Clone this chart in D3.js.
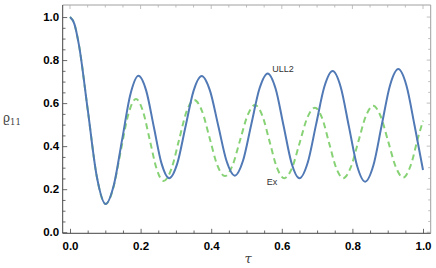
<!DOCTYPE html>
<html><head><meta charset="utf-8">
<script src="https://cdn.jsdelivr.net/npm/d3@7"></script>
<style>body{margin:0;background:#fff;}svg{display:block;}</style>
</head><body>
<svg id="c" width="436" height="268"></svg>
<script>
// Data: [tau, rho11]
const ullTau = [0,0.0125,0.025,0.0505,0.076,0.101,0.124,0.1475,0.171,0.194,0.216,0.2375,0.259,0.281,0.304,0.327,0.350,0.373,0.3965,0.420,0.4435,0.467,0.490,0.5135,0.537,0.560,0.5825,0.605,0.6275,0.650,0.6735,0.697,0.7205,0.744,0.767,0.790,0.813,0.836,0.8595,0.883,0.9065,0.930,0.953,0.976,1.0];
const ullVal = [1.0,0.967,0.873,0.566,0.258,0.131,0.218,0.429,0.640,0.727,0.657,0.489,0.321,0.251,0.320,0.489,0.657,0.726,0.658,0.495,0.331,0.263,0.332,0.501,0.669,0.738,0.667,0.495,0.322,0.251,0.324,0.500,0.676,0.749,0.674,0.492,0.310,0.235,0.311,0.497,0.682,0.758,0.682,0.497,0.289];
const exTau = [0,0.0125,0.025,0.0505,0.076,0.101,0.1225,0.144,0.1655,0.187,0.2065,0.226,0.2455,0.265,0.287,0.3085,0.330,0.352,0.374,0.3955,0.417,0.439,0.460,0.4815,0.503,0.524,0.545,0.5655,0.586,0.607,0.629,0.6505,0.672,0.694,0.714,0.734,0.754,0.774,0.795,0.8165,0.838,0.859,0.880,0.9015,0.923,0.944,0.965,0.986,1.0];
const exVal = [1.0,0.967,0.873,0.566,0.258,0.131,0.205,0.380,0.550,0.619,0.563,0.4285,0.294,0.238,0.293,0.4265,0.560,0.615,0.563,0.438,0.313,0.261,0.309,0.426,0.543,0.591,0.541,0.421,0.301,0.251,0.299,0.415,0.531,0.579,0.531,0.415,0.299,0.251,0.300,0.4195,0.539,0.588,0.539,0.421,0.303,0.254,0.310,0.440,0.518];
const xTicks = [0,0.2,0.4,0.6,0.8,1.0];
const yTicks = [0,0.2,0.4,0.6,0.8,1.0];
const xTickLabels = ["0.0","0.2","0.4","0.6","0.8","1.0"];
const yTickLabels = ["0.0","0.2","0.4","0.6","0.8","1.0"];

const svg = d3.select("#c");
const L = 62.7, R = 430.7, T = 5, B = 233.3;
const x = d3.scaleLinear().domain([-0.0207, 1.0218]).range([L, R]);
const y = d3.scaleLinear().domain([-0.005, 1.056]).range([B, T]);

const minorX = d3.range(0, 1.0001, 0.05);
const minorY = d3.range(0, 1.0001, 0.05);

// Frame top/right (light grey) with mirrored ticks
svg.append("line").attr("x1", L).attr("x2", R).attr("y1", T).attr("y2", T).attr("stroke", "#a0a0a0").attr("stroke-width", 1);
svg.append("line").attr("x1", R).attr("x2", R).attr("y1", T).attr("y2", B).attr("stroke", "#a0a0a0").attr("stroke-width", 1);
minorX.forEach((v,i) => {
  const major = i % 4 === 0;
  svg.append("line").attr("x1", x(v)).attr("x2", x(v)).attr("y1", T).attr("y2", T + (major ? 4 : 2.5)).attr("stroke", "#b0b0b0").attr("stroke-width", 0.8);
});
minorY.forEach((v,i) => {
  const major = i % 4 === 0;
  svg.append("line").attr("y1", y(v)).attr("y2", y(v)).attr("x1", R).attr("x2", R - (major ? 4 : 2.5)).attr("stroke", "#b0b0b0").attr("stroke-width", 0.8);
});

// Bottom axis
const gx = svg.append("g").attr("transform", `translate(0,${B})`)
  .call(d3.axisBottom(x).tickValues(xTicks).tickSize(0).tickPadding(9).tickFormat((d,i) => xTickLabels[i]));
gx.select(".domain").remove();
gx.selectAll("text").attr("font-family", "Liberation Sans, Arial, sans-serif").attr("font-weight", "bold").attr("font-size", 11.5).attr("fill", "#000");
const gxm = svg.append("g").attr("transform", `translate(0,${B})`)
  .call(d3.axisBottom(x).tickValues(minorX).tickSize(0).tickFormat(""));
gxm.select(".domain").remove();
gxm.selectAll(".tick").each(function(d,i){
  d3.select(this).select("line").attr("y2", -(i % 4 === 0 ? 4.5 : 2.8)).attr("stroke", "#444").attr("stroke-width", 0.8);
});

// Left axis
const gy = svg.append("g").attr("transform", `translate(${L},0)`)
  .call(d3.axisLeft(y).tickValues(yTicks).tickSize(0).tickPadding(3.5).tickFormat((d,i) => yTickLabels[i]));
gy.select(".domain").remove();
gy.selectAll("text").attr("font-family", "Liberation Sans, Arial, sans-serif").attr("font-weight", "bold").attr("font-size", 11.5).attr("fill", "#000");
const gym = svg.append("g").attr("transform", `translate(${L},0)`)
  .call(d3.axisLeft(y).tickValues(minorY).tickSize(0).tickFormat(""));
gym.select(".domain").remove();
gym.selectAll(".tick").each(function(d,i){
  d3.select(this).select("line").attr("x2", (i % 4 === 0 ? 4.5 : 2.8)).attr("stroke", "#444").attr("stroke-width", 0.8);
});

svg.append("line").attr("x1", L).attr("x2", R).attr("y1", B).attr("y2", B).attr("stroke", "#444").attr("stroke-width", 1);
svg.append("line").attr("x1", L).attr("x2", L).attr("y1", T).attr("y2", B).attr("stroke", "#444").attr("stroke-width", 1);

// Curves
const line = d3.line().x(d => x(d[0])).y(d => y(d[1])).curve(d3.curveMonotoneX);
const exData = exTau.map((t,i) => [t, exVal[i]]);
const ullData = ullTau.map((t,i) => [t, ullVal[i]]);
svg.append("clipPath").attr("id","pc").append("rect").attr("x", L).attr("y", T).attr("width", R-L).attr("height", B-T);
svg.append("path").datum(exData).attr("d", line).attr("fill","none")
  .attr("stroke","#88d276").attr("stroke-width",2).attr("stroke-dasharray","6,4").attr("clip-path","url(#pc)");
svg.append("path").datum(ullData).attr("d", line).attr("fill","none")
  .attr("stroke","#5079b5").attr("stroke-width",2).attr("clip-path","url(#pc)");

// Curve labels
svg.append("text").attr("x", 283).attr("y", 71.5).attr("text-anchor","middle")
  .attr("font-family","Liberation Sans, Arial, sans-serif").attr("font-size", 9).attr("fill","#333").text("ULL2");
svg.append("text").attr("x", 272).attr("y", 184.5).attr("text-anchor","middle")
  .attr("font-family","Liberation Sans, Arial, sans-serif").attr("font-size", 9).attr("fill","#333").text("Ex");

// Axis titles
const yl = svg.append("text").attr("x", 3).attr("y", 121.5)
  .attr("font-family","DejaVu Serif, Liberation Serif, serif").attr("font-size", 12).attr("fill","#444");
yl.append("tspan").text("ϱ");
yl.append("tspan").attr("font-size", 8.5).attr("dy", 3).text("11");
svg.append("text").attr("x", 248).attr("y", 263).attr("text-anchor","middle")
  .attr("font-family","DejaVu Serif, Liberation Serif, serif").attr("font-style","italic").attr("font-size", 13).attr("fill","#444").text("τ");
</script>
</body></html>
